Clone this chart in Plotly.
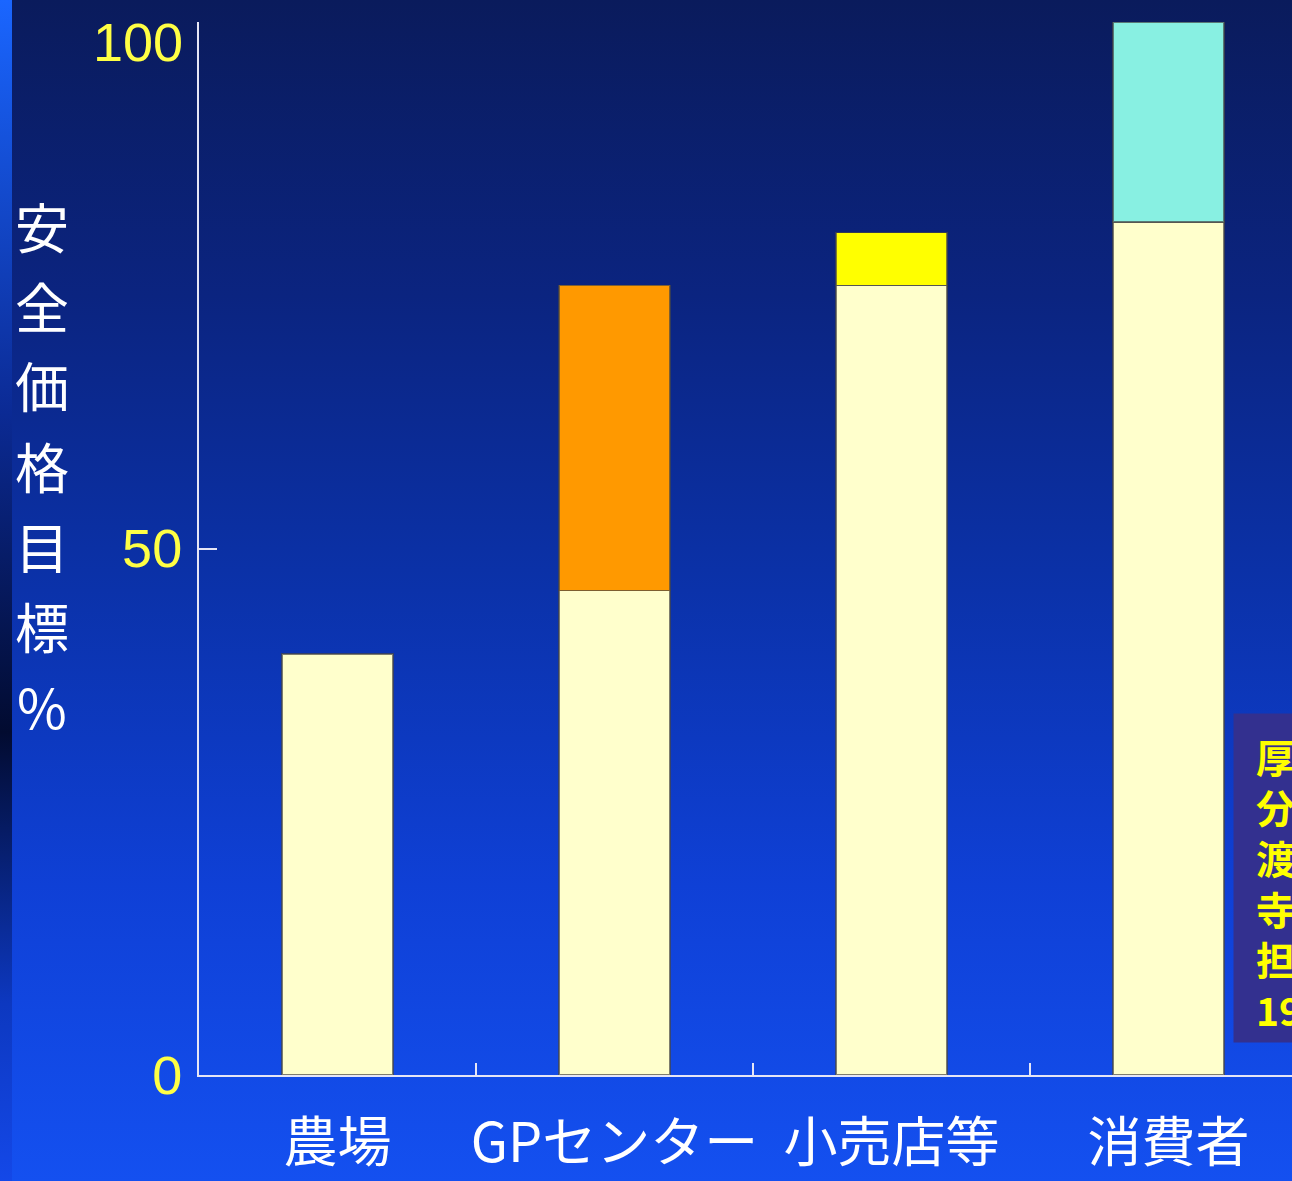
import plotly.graph_objects as go

# ---- data ----
categories = ["農場", "GPセンター", "小売店等", "消費者"]
base_values = [40, 46, 75, 81]          # cream (cumulative safe price base)
gp_added = [None, 29, None, None]       # orange
retail_added = [None, None, 5, None]    # yellow
consumer_added = [None, None, None, 19] # cyan
y_ticks = [0, 50, 100]
y_tick_text = ["0", "50", "100"]
y_title_chars = ["安", "全", "価", "格", "目", "標", "%"]
note_lines = ["厚", "分", "渡", "寺", "担", "19"]

W, H = 1292, 1181
ML, MR, MT, MB = 199, 0, 22, 106
PW, PH = W - ML - MR, H - MT - MB

x_pos = list(range(len(categories)))
outline = dict(color="rgba(70,70,70,0.7)", width=1.5)

fig = go.Figure()
for vals, color in [(base_values, "#FFFFCC"), (gp_added, "#FF9900"),
                    (retail_added, "#FFFF00"), (consumer_added, "#88F0E2")]:
    fig.add_trace(go.Bar(x=x_pos, y=vals, width=0.4,
                         marker=dict(color=color, line=outline),
                         showlegend=False, hoverinfo="skip"))

# the top tick label sits just below its tick (drawn as annotation below)
shown_tick_text = [t if v != max(y_ticks) else "" for v, t in zip(y_ticks, y_tick_text)]

fig.update_layout(
    width=W, height=H,
    margin=dict(l=ML, r=MR, t=MT, b=MB),
    barmode="stack",
    paper_bgcolor="rgba(0,0,0,0)",
    plot_bgcolor="rgba(0,0,0,0)",
    xaxis=dict(
        range=[-0.5, 3.446],
        tickmode="array", tickvals=x_pos, ticktext=categories,
        ticks="", showgrid=False, zeroline=False,
        showline=True, linecolor="#E6E6F5", linewidth=2,
        tickfont=dict(family="Noto Sans CJK JP", size=54, color="white"),
        ticklabelstandoff=20,
        minor=dict(tickmode="array", tickvals=[0.5, 1.5, 2.5], ticks="inside",
                   ticklen=12, tickwidth=1.5, tickcolor="#E6E6F5", showgrid=False),
    ),
    yaxis=dict(
        range=[0, 100],
        tickmode="array", tickvals=y_ticks, ticktext=shown_tick_text,
        ticks="inside", ticklen=18, tickwidth=2, tickcolor="#E6E6F5",
        showgrid=False, zeroline=False,
        showline=True, linecolor="#E6E6F5", linewidth=2,
        tickfont=dict(family="Liberation Sans", size=54, color="#FFFF44"),
        ticklabelstandoff=4,
    ),
)

# top tick label "100"
fig.add_annotation(
    xref="paper", yref="y", x=0, y=max(y_ticks),
    xanchor="right", yanchor="middle", xshift=-14, yshift=-20,
    text=y_tick_text[y_ticks.index(max(y_ticks))], showarrow=False,
    font=dict(family="Liberation Sans", size=54, color="#FFFF44"),
)

# vertical y-axis title, one character per line
title_center_px = 465
title_step_px = 80
n = len(y_title_chars)
for i, ch in enumerate(y_title_chars):
    ypx = title_center_px + (i - (n - 1) / 2) * title_step_px
    fig.add_annotation(
        xref="paper", yref="paper", x=-(ML - 42) / PW, y=(H - MB - ypx) / PH,
        xanchor="center", yanchor="middle",
        text=ch, showarrow=False,
        font=dict(family="Noto Sans CJK JP", size=54, color="white"),
    )

# source note box (cut off by the right edge)
box_left, box_top, box_bottom = 1233, 715, 1043
fig.add_annotation(
    xref="paper", yref="paper", x=(box_left - ML) / PW, y=(H - MB - box_bottom) / PH,
    xanchor="left", yanchor="bottom",
    text=" ", showarrow=False, width=140, height=box_bottom - box_top,
    bgcolor="#33308F", borderpad=0,
    font=dict(size=10, color="#33308F"),
)
first_line_px, line_step_px = 756, 50.5
for i, s in enumerate(note_lines):
    ypx = first_line_px + i * line_step_px
    fig.add_annotation(
        xref="paper", yref="paper", x=(1254 - ML) / PW, y=(H - MB - ypx) / PH,
        xanchor="left", yanchor="middle",
        text="<b>%s</b>" % s, showarrow=False,
        font=dict(family="Noto Sans CJK JP", size=39, color="#FFFF00"),
    )

post = """
document.documentElement.style.margin='0';
document.body.style.margin='0';
document.documentElement.style.background =
 'linear-gradient(to bottom, #1a66ff 0%, #0b2a94 35%, #020b30 62%, #0d38c0 85%, #1448e8 100%) 0 0 / 12px 100% no-repeat,' +
 'linear-gradient(to bottom, #0a1b5c 0%, #0b2480 25%, #0b32aa 50%, #0f40d6 75%, #1450f0 100%)';
document.body.style.background = 'transparent';
"""
fig.write_html("out.html", post_script=post, config={"displayModeBar": False})
